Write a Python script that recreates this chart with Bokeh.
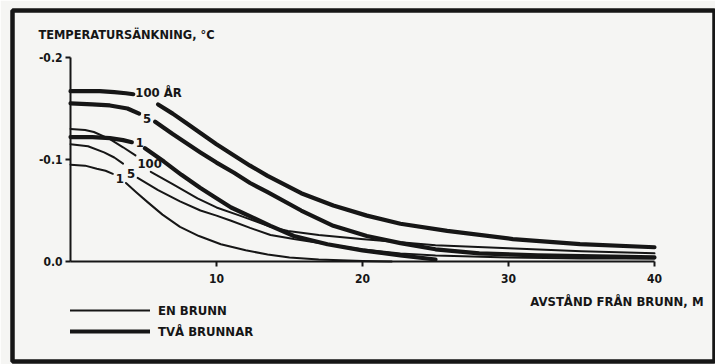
import math
from bokeh.plotting import figure
from bokeh.models import (Range1d, FixedTicker, Legend, LegendItem, Label,
                          ColumnDataSource)
from bokeh.core.properties import value
from bokeh.embed import file_html
from bokeh.resources import INLINE

NaN = float("nan")

# ---- data (x: distance from well [m], v: temperature drop [°C]) ----
# TVÅ BRUNNAR (two wells) – thick lines
two_100_x = [0, 1, 2, 3, 3.8, 4.3, NaN, 6.0, 7.0, 8.0, 8.9, 10.0, 11.2, 12.3, 13.5, 15.8, 18.0, 20.3, 22.6, 25.8, 30.3, 34.9, 40.0]
two_100_v = [-0.167, -0.167, -0.167, -0.166, -0.165, -0.164, NaN, -0.154, -0.145, -0.135, -0.126, -0.115, -0.104, -0.094, -0.084, -0.067, -0.055, -0.045, -0.037, -0.030, -0.022, -0.017, -0.014]

two_5_x = [0, 1.5, 2.7, 3.9, 4.7, NaN, 5.8, 7.0, 8.9, 10.0, 11.2, 12.3, 13.5, 15.8, 18.0, 20.3, 22.6, 25.0, 28.0, 32.0, 36.0, 40.0]
two_5_v = [-0.155, -0.154, -0.153, -0.150, -0.145, NaN, -0.137, -0.125, -0.107, -0.097, -0.087, -0.077, -0.068, -0.050, -0.035, -0.025, -0.018, -0.012, -0.008, -0.006, -0.005, -0.004]

two_1_x = [0, 1.5, 2.7, 3.6, 4.2, NaN, 5.1, 6.4, 7.6, 8.9, 10.0, 11.0, 12.5, 13.7, 15.3, 17.6, 20.0, 22.6, 25.0]
two_1_v = [-0.122, -0.122, -0.121, -0.119, -0.117, NaN, -0.111, -0.098, -0.085, -0.072, -0.062, -0.053, -0.043, -0.035, -0.025, -0.017, -0.011, -0.006, -0.002]

# EN BRUNN (one well) – thin lines
one_100_x = [0, 1.0, 1.6, 2.7, 3.6, 4.45, NaN, 5.5, 7.0, 8.7, 10.0, 11.6, 13.7, 14.9, 17.0, 19.9, 22.6, 25.0, 30.0, 35.0, 40.0]
one_100_v = [-0.130, -0.129, -0.127, -0.120, -0.112, -0.104, NaN, -0.088, -0.076, -0.062, -0.053, -0.045, -0.034, -0.030, -0.026, -0.022, -0.019, -0.016, -0.013, -0.010, -0.008]

one_5_x = [0, 1.2, 2.3, 3.0, 3.6, NaN, 4.6, 6.0, 7.5, 8.9, 10.0, 11.0, 12.3, 13.7, 15.3, 17.6, 19.9, 22.6, 25.0, 30.0, 35.0, 40.0]
one_5_v = [-0.115, -0.113, -0.107, -0.102, -0.096, NaN, -0.082, -0.070, -0.059, -0.050, -0.045, -0.040, -0.033, -0.026, -0.022, -0.017, -0.012, -0.008, -0.006, -0.004, -0.003, -0.003]

one_1_x = [0, 1.0, 1.8, 2.4, 2.9, NaN, 3.8, 4.5, 5.3, 6.3, 7.5, 8.8, 10.3, 12.0, 13.5, 15.0, 17.0, 20.0, 22.0]
one_1_v = [-0.095, -0.094, -0.091, -0.089, -0.086, NaN, -0.077, -0.068, -0.058, -0.046, -0.034, -0.025, -0.017, -0.011, -0.007, -0.004, -0.002, -0.0005, 0.0]

two_labels = ["100 ÅR", "5", "1"]
one_labels = ["100", "5", "1"]

x_ticks = [10, 20, 30, 40]
x_tick_labels = ["10", "20", "30", "40"]
y_ticks = [-0.2, -0.1, 0.0]
y_tick_labels = ["-0.2", "-0.1", "0.0"]

y_title = "TEMPERATURSÄNKNING, °C"
x_title = "AVSTÅND FRÅN BRUNN, M"
legend_labels = ["EN BRUNN", "TVÅ BRUNNAR"]

# ---- styling ----
FONT = "DejaVu Sans Condensed"
INK = "#161616"
BG = "#f5f5f3"
THICK = 4.2
THIN = 2.0


def split(xs, vs):
    segs_x, segs_v, cx, cv = [], [], [], []
    for x, v in zip(xs, vs):
        if isinstance(x, float) and math.isnan(x):
            segs_x.append(cx); segs_v.append(cv); cx, cv = [], []
        else:
            cx.append(x); cv.append(v)
    segs_x.append(cx); segs_v.append(cv)
    return segs_x, segs_v


# the plot frame is the whole boxed drawing; its outline is the black border
p = figure(width=715, height=364, output_backend="svg", toolbar_location=None,
           x_range=Range1d(-3.973, 44.18), y_range=Range1d(0.098, -0.2461),
           min_border_left=12, min_border_right=0, min_border_top=10, min_border_bottom=3)
p.background_fill_color = BG
p.border_fill_color = BG
p.outline_line_color = INK
p.outline_line_width = 4.5
p.grid.visible = False

# axes drawn at the data origin
p.xaxis.fixed_location = 0.0
p.yaxis.fixed_location = 0.0
p.xaxis.ticker = FixedTicker(ticks=x_ticks)
p.xaxis.major_label_overrides = {t: l for t, l in zip(x_ticks, x_tick_labels)}
p.xaxis.bounds = (0, 40)
p.yaxis.ticker = FixedTicker(ticks=y_ticks)
p.yaxis.major_label_overrides = {t: l for t, l in zip(y_ticks, y_tick_labels)}
p.yaxis.bounds = (-0.2, 0.0)
for ax in (p.xaxis, p.yaxis):
    ax.axis_line_color = INK
    ax.axis_line_width = 2
    ax.major_tick_line_color = INK
    ax.major_tick_line_width = 2
    ax.major_tick_in = 0
    ax.major_tick_out = 5
    ax.minor_tick_line_color = None
    ax.major_label_text_font = FONT
    ax.major_label_text_font_style = "bold"
    ax.major_label_text_font_size = "12px"
    ax.major_label_text_color = INK
p.xaxis.major_label_standoff = 7
p.yaxis.major_label_standoff = 3

# curves
thick_sets = [(two_100_x, two_100_v), (two_5_x, two_5_v), (two_1_x, two_1_v)]
thin_sets = [(one_100_x, one_100_v), (one_5_x, one_5_v), (one_1_x, one_1_v)]


def collect(sets):
    xs, vs, ax, av = [], [], [], []
    for cx, cv in sets:
        sx, sv = split(cx, cv)
        xs += sx; vs += sv
        ax.append(sx[0][-1]); av.append(sv[0][-1])
    return xs, vs, ax, av


tk_xs, tk_vs, tk_ax, tk_av = collect(thick_sets)
tn_xs, tn_vs, tn_ax, tn_av = collect(thin_sets)

thin_r = p.multi_line(xs=tn_xs, ys=tn_vs, line_color=INK, line_width=THIN,
                      line_join="round", line_cap="round")
thick_r = p.multi_line(xs=tk_xs, ys=tk_vs, line_color=INK, line_width=THICK,
                       line_join="round", line_cap="round")

# curve labels anchored at the label gap in each curve
lab_src = ColumnDataSource(dict(
    x=tk_ax + tn_ax, y=tk_av + tn_av, text=two_labels + one_labels,
    dx=[2, 4, 4, 2, 4, 3], dy=[-2, 5, 0, 8, 10, 5]))
p.text(x="x", y="y", text="text", source=lab_src, x_offset="dx", y_offset="dy",
       text_font=value(FONT), text_font_style="bold", text_font_size="13px",
       text_color=INK, text_align="left", text_baseline="middle")

# axis titles
p.add_layout(Label(x=-2.2, y=-0.223, text=y_title, text_font=FONT,
                   text_font_style="bold", text_font_size="12.7px", text_color=INK,
                   text_align="left", text_baseline="alphabetic"))
p.add_layout(Label(x=43.36, y=0.039, text=x_title, text_font=FONT,
                   text_font_style="bold", text_font_size="13px", text_color=INK,
                   text_align="right", text_baseline="alphabetic"))

# legend (location = its bottom-left corner, in pixels from the frame's bottom-left)
legend = Legend(items=[LegendItem(label=legend_labels[0], renderers=[thin_r]),
                       LegendItem(label=legend_labels[1], renderers=[thick_r])],
                location=(58, 22), orientation="vertical", glyph_width=80,
                glyph_height=16, spacing=5, padding=0, margin=0, label_standoff=8,
                border_line_color=None, background_fill_alpha=0,
                label_text_font=FONT, label_text_font_style="bold",
                label_text_font_size="13px", label_text_color=INK)
p.add_layout(legend)

open("out.html", "w").write(file_html(p, INLINE))
